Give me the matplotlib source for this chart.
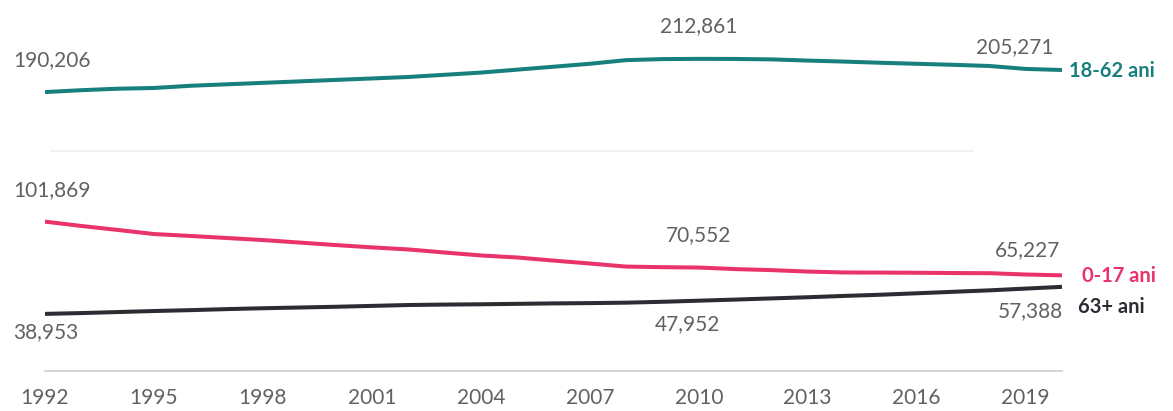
import numpy as np
import matplotlib.pyplot as plt

years = list(range(1992, 2021))
adults = [190206, 191500, 192500, 193000, 194500, 195500, 196500, 197500, 198500, 199500,
          200500, 202000, 203500, 205500, 207500, 209500, 212000, 212700, 212861, 212800,
          212500, 211700, 211000, 210200, 209500, 208800, 208000, 206000, 205271]
children = [101869, 98900, 96200, 93400, 92100, 90700, 89300, 87600, 85900, 84300,
            82900, 80800, 78800, 77400, 75300, 73300, 71200, 70800, 70552, 69500,
            68800, 67800, 67200, 67100, 67000, 66800, 66700, 65800, 65227]
seniors = [38953, 39500, 40200, 40900, 41500, 42200, 42800, 43300, 43800, 44400,
           45000, 45300, 45500, 45800, 46100, 46300, 46600, 47200, 47952, 48700,
           49500, 50300, 51200, 52000, 53000, 54000, 55000, 56200, 57388]
tick_years = [1992, 1995, 1998, 2001, 2004, 2007, 2010, 2013, 2016, 2019]

teal = '#17807e'
pink = '#e8336b'
dark = '#2b2d33'
grey = '#616161'
font = ['Lato', 'DejaVu Sans']

fig = plt.figure(figsize=(11.73, 4.11), dpi=100)
ax = fig.add_axes([45 / 1173, 40 / 411, (1062 - 45) / 1173, 371 / 411])

ax.axhline(150000, xmin=0.006, xmax=0.912, color='#f0f0f0', lw=1.2, zorder=0)

ax.plot(years, adults, color=teal, lw=2.9, solid_capstyle='butt')
ax.plot(years, children, color=pink, lw=2.9, solid_capstyle='butt')
ax.plot(years, seniors, color=dark, lw=2.9, solid_capstyle='butt')

ax.set_xlim(1992, 2020)
ax.set_ylim(0, 253000)

for s in ['top', 'right', 'left']:
    ax.spines[s].set_visible(False)
ax.spines['bottom'].set_color('#d0d0d0')
ax.spines['bottom'].set_linewidth(1.2)
ax.set_yticks([])
ax.set_xticks(tick_years)
ax.set_xticklabels([str(y) for y in tick_years], family=font, fontsize=15, color=grey)
ax.tick_params(axis='x', length=0, pad=12)


def label(x, y, text, dx, dy, ha='center', **kw):
    ax.annotate(text, xy=(x, y), xytext=(dx, dy), textcoords='offset pixels',
                ha=ha, va='center', family=font, annotation_clip=False, **kw)


i10 = years.index(2010)
plain = dict(fontsize=15, color=grey)
label(years[0], adults[0], f'{adults[0]:,}', 7, 32, **plain)
label(2010, adults[i10], f'{adults[i10]:,}', 0, 33, **plain)
label(years[-1], adults[-1], f'{adults[-1]:,}', -47, 23, **plain)
label(years[0], children[0], f'{children[0]:,}', 7, 32, **plain)
label(2010, children[i10], f'{children[i10]:,}', 0, 32, **plain)
label(years[-1], children[-1], f'{children[-1]:,}', -34, 25, **plain)
label(years[0], seniors[0], f'{seniors[0]:,}', 1, -18, **plain)
label(2010, seniors[i10], f'{seniors[i10]:,}', -11, -23, **plain)
label(years[-1], seniors[-1], f'{seniors[-1]:,}', -32, -24, **plain)

label(years[-1], adults[-1], '18-62 ani', 7, -1, ha='left', fontsize=14.5, color=teal, weight='bold')
label(years[-1], children[-1], '0-17 ani', 20, -1, ha='left', fontsize=14.5, color=pink, weight='bold')
label(years[-1], seniors[-1], '63+ ani', 16, -20, ha='left', fontsize=14.5, color=dark, weight='bold')

fig.savefig('out.png', dpi=100)
